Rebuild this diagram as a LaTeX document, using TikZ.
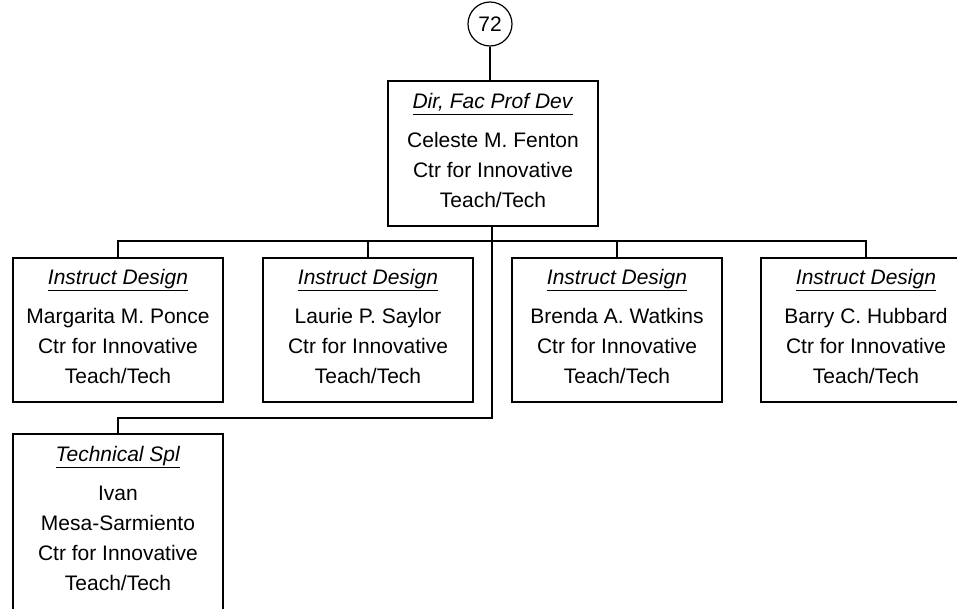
\documentclass[tikz,border=0pt]{standalone}
\usepackage{fontspec}
\setmainfont{Liberation Sans}
\newcommand{\jobtitle}[1]{\setbox0\hbox{\textit{#1}\vphantom{g}}%
  \vtop{\copy0\kern1.2pt\hrule height 1.3pt width \wd0}}
\tikzset{
  posbox/.style={draw, line width=1.2pt, rectangle, minimum width=210pt, minimum height=145pt,
    align=center, inner sep=0pt, font=\fontsize{21}{30}\selectfont,
    execute at end node={\rule[-7pt]{0pt}{0pt}}},
  refcircle/.style={draw, line width=1.2pt, circle, minimum size=44pt, inner sep=0pt,
    font=\fontsize{21}{24}\selectfont},
  link/.style={line width=1.2pt}
}
\begin{document}
\begin{tikzpicture}[x=1pt,y=-1pt]
  \useasboundingbox (0,0) rectangle (957,608);
  \clip (0,0) rectangle (957,608);
  \node[refcircle] (ref) at (490,24) {72};
  \node[posbox] (dir) at (493,153.5) {\jobtitle{Dir, Fac Prof Dev}\\[9pt]
    Celeste M. Fenton\\ Ctr for Innovative\\ Teach/Tech};
  \node[posbox, minimum height=144pt] (ponce) at (118,330) {\jobtitle{Instruct Design}\\[9pt]
    Margarita M. Ponce\\ Ctr for Innovative\\ Teach/Tech};
  \node[posbox, minimum height=144pt] (saylor) at (368,330) {\jobtitle{Instruct Design}\\[9pt]
    Laurie P. Saylor\\ Ctr for Innovative\\ Teach/Tech};
  \node[posbox, minimum height=144pt] (watkins) at (617,330) {\jobtitle{Instruct Design}\\[9pt]
    Brenda A. Watkins\\ Ctr for Innovative\\ Teach/Tech};
  \node[posbox, minimum height=144pt] (hubbard) at (866,330) {\jobtitle{Instruct Design}\\[9pt]
    Barry C. Hubbard\\ Ctr for Innovative\\ Teach/Tech};
  \node[posbox, minimum height=176pt] (mesa) at (118,522) {\jobtitle{Technical Spl}\\[9pt]
    Ivan\\ Mesa-Sarmiento\\ Ctr for Innovative\\ Teach/Tech};
  \coordinate (bus) at (492,241);
  \coordinate (bend) at (492,418);
  \draw[link] (ref.south) -- (ref.south |- dir.north);
  \draw[link] (bus |- dir.south) -- (bend) -| (mesa.north);
  \draw[link] (ponce.north) |- (hubbard.north |- bus) -- (hubbard.north);
  \draw[link] (saylor.north) -- (saylor.north |- bus);
  \draw[link] (watkins.north) -- (watkins.north |- bus);
\end{tikzpicture}
\end{document}
